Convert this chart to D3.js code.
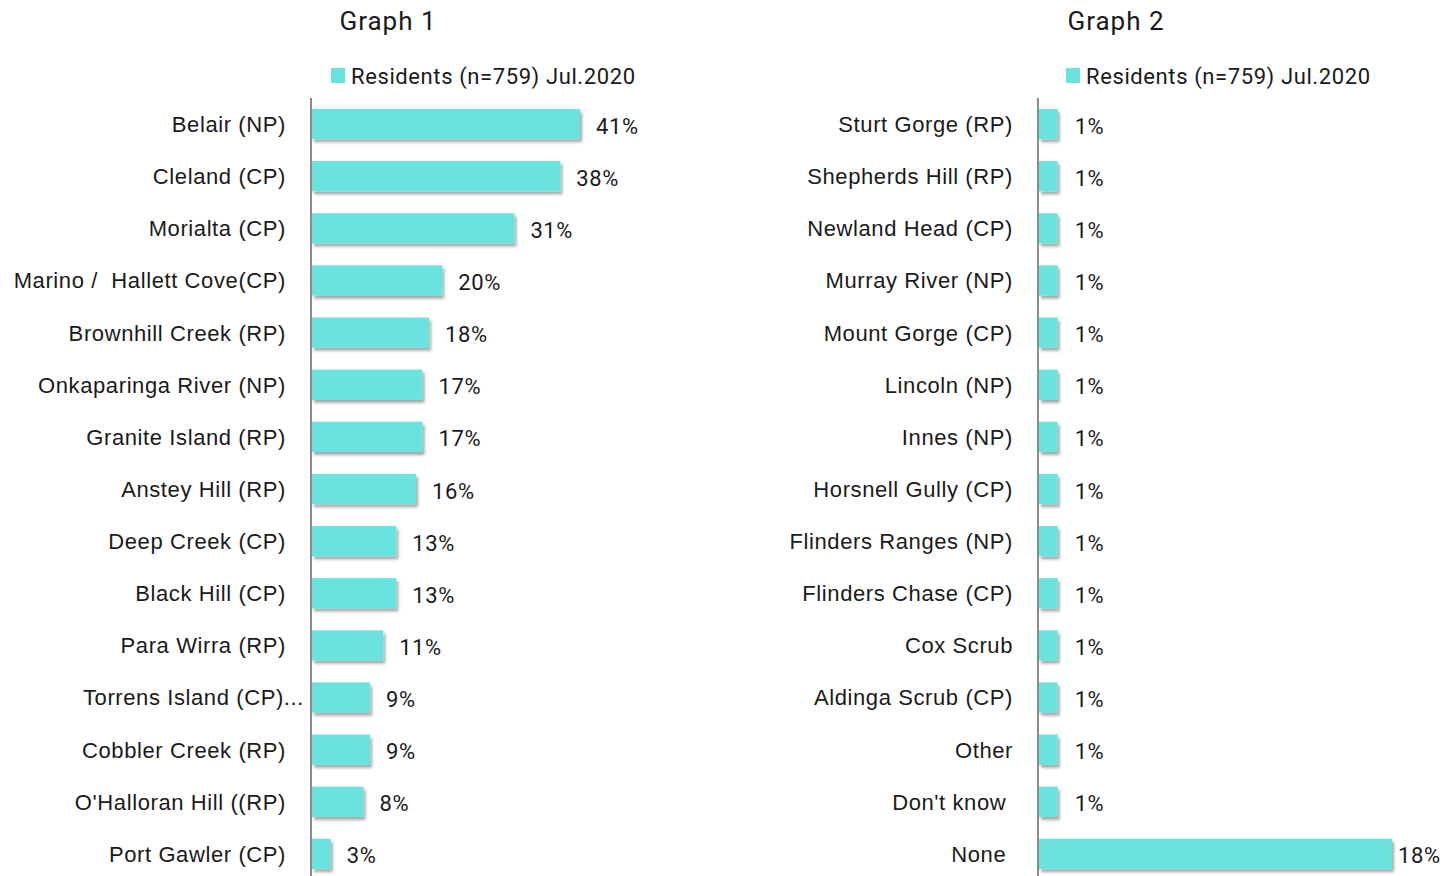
<!DOCTYPE html>
<html>
<head>
<meta charset="utf-8">
<script src="https://cdn.jsdelivr.net/npm/d3@7"></script>
<style>
  html, body { margin: 0; padding: 0; background: #fff; }
  svg { display: block; font-family: Roboto, "DejaVu Sans", sans-serif; }
</style>
</head>
<body>
<svg id="chart" width="1445" height="876"></svg>
<script>
// Parks visited by residents, two panels
const seriesName = "Residents (n=759) Jul.2020";

const titles = ["Graph 1", "Graph 2"];

const parks1 = [
  "Belair (NP)", "Cleland (CP)", "Morialta (CP)", "Marino /  Hallett Cove(CP)",
  "Brownhill Creek (RP)", "Onkaparinga River (NP)", "Granite Island (RP)",
  "Anstey Hill (RP)", "Deep Creek (CP)", "Black Hill (CP)", "Para Wirra (RP)",
  "Torrens Island (CP)...", "Cobbler Creek (RP)", "O'Halloran Hill ((RP)", "Port Gawler (CP)"
];
const values1 = [41, 38, 31, 20, 18, 17, 17, 16, 13, 13, 11, 9, 9, 8, 3];

const parks2 = [
  "Sturt Gorge (RP)", "Shepherds Hill (RP)", "Newland Head (CP)", "Murray River (NP)",
  "Mount Gorge (CP)", "Lincoln (NP)", "Innes (NP)", "Horsnell Gully (CP)",
  "Flinders Ranges (NP)", "Flinders Chase (CP)", "Cox Scrub", "Aldinga Scrub (CP)",
  "Other", "Don't know ", "None "
];
const values2 = [1, 1, 1, 1, 1, 1, 1, 1, 1, 1, 1, 1, 1, 1, 18];

const barColor = "#6ae3df";
const textColor = "#1a1a1a";
const fontSize = 22;
const spacing = 0.6;

const svg = d3.select("#chart");

const defs = svg.append("defs");
const shadow = defs.append("filter").attr("id", "barShadow")
  .attr("x", "-10%").attr("y", "-20%").attr("width", "130%").attr("height", "160%");
shadow.append("feDropShadow")
  .attr("dx", 2).attr("dy", 3).attr("stdDeviation", 1.8)
  .attr("flood-color", "#000").attr("flood-opacity", 0.35);

function panel(cfg) {
  const g = svg.append("g");
  const x = d3.scaleLinear().domain([0, cfg.maxVal]).range([cfg.axisX, cfg.axisX + cfg.width]);
  const y = d3.scaleBand().domain(cfg.cats).range([cfg.top, cfg.bottom]).paddingInner(0.42).paddingOuter(0.21);

  // title
  g.append("text")
    .attr("x", cfg.titleX).attr("y", 21)
    .attr("text-anchor", "middle").attr("dominant-baseline", "central")
    .attr("fill", textColor).attr("font-size", 26).attr("letter-spacing", 1)
    .text(cfg.title);

  // legend
  g.append("rect")
    .attr("x", cfg.legendX).attr("y", 68).attr("width", 14).attr("height", 15)
    .attr("fill", barColor);
  g.append("text")
    .attr("x", cfg.legendX + 20).attr("y", 76)
    .attr("dominant-baseline", "central")
    .attr("fill", textColor).attr("font-size", fontSize).attr("letter-spacing", spacing)
    .text(seriesName);

  // bars
  g.selectAll("rect.bar").data(cfg.vals).join("rect")
    .attr("class", "bar")
    .attr("x", x(0) + 1)
    .attr("y", (d, i) => y(cfg.cats[i]))
    .attr("width", d => x(d) - x(0) - 1)
    .attr("height", y.bandwidth())
    .attr("fill", barColor)
    .attr("filter", "url(#barShadow)");

  // value labels
  g.selectAll("text.val").data(cfg.vals).join("text")
    .attr("class", "val")
    .attr("x", d => Math.min(x(d) + cfg.labelGap, cfg.maxLabelX))
    .attr("y", (d, i) => y(cfg.cats[i]) + y.bandwidth() / 2 + 2)
    .attr("dominant-baseline", "central")
    .attr("fill", textColor).attr("font-size", fontSize).attr("letter-spacing", spacing)
    .text(d => d + "%");

  // category axis
  const axis = d3.axisLeft(y).tickSize(0).tickPadding(cfg.tickPad);
  const ax = g.append("g").attr("transform", `translate(${cfg.axisX},0)`).call(axis);
  ax.select(".domain").remove();
  ax.selectAll("text")
    .attr("font-size", fontSize).attr("fill", textColor)
    .attr("letter-spacing", spacing)
    .attr("font-family", null)
    .attr("xml:space", "preserve")
    .attr("dy", "0.36em")
    .attr("dx", d => d.endsWith("...") ? 18 : 0);

  g.append("line")
    .attr("x1", cfg.axisX).attr("x2", cfg.axisX)
    .attr("y1", 98).attr("y2", 876)
    .attr("stroke", "#8c8c8c").attr("stroke-width", 2);
}

panel({
  title: titles[0], titleX: 388, legendX: 331,
  cats: parks1, vals: values1, maxVal: 41,
  axisX: 311, width: 269, top: 98, bottom: 880,
  labelGap: 16, maxLabelX: 1400, tickPad: 25
});

panel({
  title: titles[1], titleX: 1116, legendX: 1066,
  cats: parks2, vals: values2, maxVal: 18,
  axisX: 1038, width: 354, top: 98, bottom: 880,
  labelGap: 17, maxLabelX: 1398, tickPad: 25
});
</script>
</body>
</html>
